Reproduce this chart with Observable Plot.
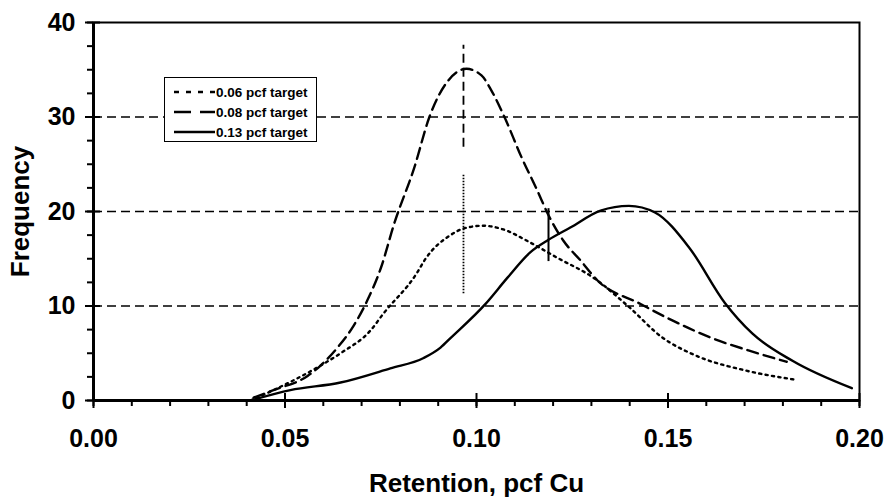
<!DOCTYPE html>
<html><head><meta charset="utf-8">
<script src="https://cdn.jsdelivr.net/npm/d3@7"></script>
<script src="https://cdn.jsdelivr.net/npm/@observablehq/plot@0.6"></script>
<style>
body{margin:0;background:#fff}
#wrap{position:relative;width:887px;height:499px}
#legend{position:absolute;left:164px;top:77px;width:153px;height:65px;border:1.5px solid #000;background:#fff;box-sizing:border-box;font:bold 13.5px "Liberation Sans",Arial,sans-serif;color:#000}
#legend .row{position:absolute;left:0;height:16px;display:flex;align-items:center;white-space:nowrap}
#legend svg{margin-left:9px;margin-right:1px}
</style></head>
<body><div id="wrap"></div>
<script>
// Series: 0.06 pcf target (dotted)
const x06 = [0.041, 0.047, 0.0593, 0.0645, 0.0723, 0.0757, 0.0843, 0.0867, 0.0932, 0.0966, 0.1018, 0.107, 0.1141, 0.1211, 0.1305, 0.1398, 0.1484, 0.157, 0.170, 0.1832];
const f06 = [0, 1.1, 3.7, 5.0, 7.4, 9.2, 13.4, 15.0, 17.5, 18.2, 18.5, 18.1, 16.7, 15.1, 13.0, 9.9, 6.7, 4.8, 3.2, 2.2];
// Series: 0.08 pcf target (dashed)
const x08 = [0.0418, 0.047, 0.0559, 0.0593, 0.0637, 0.0679, 0.0715, 0.0751, 0.0785, 0.0838, 0.0877, 0.0927, 0.0974, 0.1013, 0.1039, 0.1073, 0.1118, 0.1159, 0.1188, 0.1227, 0.1272, 0.1316, 0.1424, 0.151, 0.1615, 0.171, 0.181];
const f08 = [0.3, 1.1, 2.6, 3.7, 5.6, 7.9, 10.6, 14.1, 18.7, 24.7, 30, 33.9, 35.1, 34.4, 32.8, 30, 25.7, 22.2, 19.6, 16.9, 14.8, 12.7, 10.3, 8.5, 6.6, 5.3, 4.1];
// Series: 0.13 pcf target (solid)
const x13 = [0.041, 0.0514, 0.0645, 0.0775, 0.0862, 0.0906, 0.0932, 0.1023, 0.1081, 0.1141, 0.1188, 0.1245, 0.1324, 0.1398, 0.1466, 0.1555, 0.1649, 0.172, 0.1825, 0.198];
const f13 = [0, 1.1, 1.9, 3.4, 4.5, 5.6, 6.6, 10.2, 13.0, 15.7, 17.0, 18.3, 20.1, 20.6, 19.9, 16.2, 10.3, 7.1, 4.2, 1.3];

const seriesNames = ["0.06 pcf target", "0.08 pcf target", "0.13 pcf target"];
// Vertical mean markers (one per series)
const markerX = [0.0966, 0.0966, 0.1188];
const markerLo = [11.3, 26.8, 14.7];
const markerHi = [24.0, 37.6, 20.3];

const xMajor = [0, 0.05, 0.10, 0.15, 0.20];
const xMinor = d3.range(0, 21).map(i => i / 100);
const yMajor = [0, 10, 20, 30, 40];
const yMinor = d3.range(0, 17).map(i => i * 2.5);
const yGrid = [10, 20, 30];
const xTitle = "Retention, pcf Cu";
const yTitle = "Frequency";

const dash = {"0.06 pcf target": "2.2,4.3", "0.08 pcf target": "11,6", "0.13 pcf target": null};
const legendDash = {"0.06 pcf target": "5,7", "0.08 pcf target": "17,9", "0.13 pcf target": null};

const rows = [];
[[x06, f06], [x08, f08], [x13, f13]].forEach(([xs, fs], k) =>
  xs.forEach((x, i) => rows.push({series: seriesNames[k], x, f: fs[i]})));
const markers = markerX.map((x, i) => ({series: seriesNames[i], x, lo: markerLo[i], hi: markerHi[i]}));

const W = 887, H = 499, ML = 93, MR = 28, MT = 22, MB = 99;
const frameW = W - ML - MR, frameH = H - MT - MB;
const font = {fontFamily: "Liberation Sans, Arial, sans-serif", fontWeight: "bold"};

const marks = [
  Plot.ruleY(yGrid, {stroke: "#000", strokeWidth: 1.4, strokeDasharray: "9,5"}),
  Plot.frame({stroke: "#000", strokeWidth: 2}),
  ...seriesNames.map(s => Plot.line(rows.filter(r => r.series === s), {
    x: "x", y: "f", curve: "monotone-x", stroke: "#000", strokeWidth: 2.4, strokeDasharray: dash[s]})),
  ...markers.map(m => Plot.ruleX([m], {x: "x", y1: "lo", y2: "hi", stroke: "#000",
    strokeWidth: m.series === "0.13 pcf target" ? 2 : 1.8,
    strokeDasharray: m.series === "0.06 pcf target" ? "1.5,1.5" : (m.series === "0.08 pcf target" ? "9,5" : null)})),
  Plot.ruleX([0], {stroke: "#000", strokeWidth: 3}),
  Plot.ruleY([0], {stroke: "#000", strokeWidth: 3}),
  // tick marks: major ticks cross the axis, minor ticks point outward
  Plot.ruleX(xMajor, {stroke: "#000", strokeWidth: 2, insetTop: frameH - 7, insetBottom: -8}),
  Plot.ruleX(xMinor, {stroke: "#000", strokeWidth: 2, insetTop: frameH, insetBottom: -6}),
  Plot.ruleY(yMajor, {stroke: "#000", strokeWidth: 2, insetLeft: -8, insetRight: frameW - 7}),
  Plot.ruleY(yMinor, {stroke: "#000", strokeWidth: 2, insetLeft: -6, insetRight: frameW}),
  Plot.axisY({ticks: yMajor, tickSize: 0, tickPadding: 18, label: null, fontSize: 25, ...font}),
  Plot.axisX({ticks: xMajor, tickSize: 0, tickPadding: 29, tickFormat: d3.format(".2f"), label: null, fontSize: 25, ...font}),
  Plot.text([xTitle], {frameAnchor: "bottom", dy: 91, fontSize: 26, ...font, fill: "#000"}),
  Plot.text([yTitle], {frameAnchor: "left", textAnchor: "middle", rotate: -90, dx: -73, fontSize: 26, ...font, fill: "#000"})
];

const chart = Plot.plot({
  width: W, height: H,
  marginLeft: ML, marginRight: MR, marginTop: MT, marginBottom: MB,
  x: {domain: [0, 0.2]},
  y: {domain: [0, 40]},
  style: {background: "#fff", color: "#000", fontFamily: "Liberation Sans, Arial, sans-serif"},
  marks
});
const wrap = document.getElementById("wrap");
wrap.appendChild(chart);

// Legend (inside plot area)
const leg = document.createElement("div");
leg.id = "legend";
seriesNames.forEach((s, i) => {
  const row = document.createElement("div");
  row.className = "row";
  row.style.top = (6 + i * 20) + "px";
  const d = legendDash[s];
  row.innerHTML = `<svg width="41" height="6"><line x1="0" y1="3" x2="41" y2="3" stroke="#000" stroke-width="2.4" ${d ? `stroke-dasharray="${d}"` : ""}/></svg><span>${s}</span>`;
  leg.appendChild(row);
});
wrap.appendChild(leg);
</script>
</body></html>
